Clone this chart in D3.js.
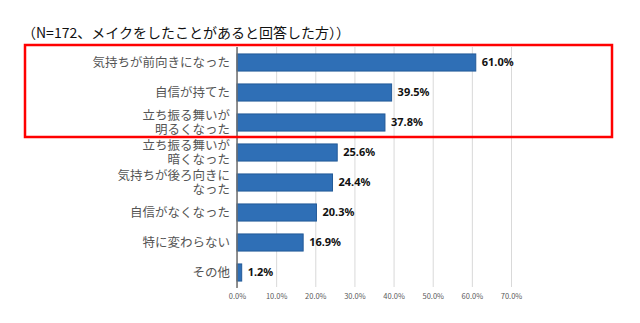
<!DOCTYPE html>
<html><head><meta charset="utf-8">
<script src="https://cdn.jsdelivr.net/npm/d3@7"></script>
<style>
html,body{margin:0;padding:0;background:#fff;}
svg{display:block;}
</style></head>
<body>
<script>
const title = "（N=172、メイクをしたことがあると回答した方））";
const categories = [
  ["気持ちが前向きになった"],
  ["自信が持てた"],
  ["立ち振る舞いが","明るくなった"],
  ["立ち振る舞いが","暗くなった"],
  ["気持ちが後ろ向きに","なった"],
  ["自信がなくなった"],
  ["特に変わらない"],
  ["その他"]
];
const values = [61.0, 39.5, 37.8, 25.6, 24.4, 20.3, 16.9, 1.2];
const tickValues = [0,10,20,30,40,50,60,70];

const W = 640, H = 323;
const font = "'Noto Sans CJK JP','Noto Sans',sans-serif";
const svg = d3.select("body").append("svg").attr("width",W).attr("height",H);

const x = d3.scaleLinear().domain([0,70]).range([237,511]);
const keys = categories.map(c=>c.join(""));
const y = d3.scaleBand().domain(keys).range([47.5,287.5]).paddingInner(0.43).paddingOuter(0.215);

// title
svg.append("text").attr("x",22).attr("y",38).attr("font-family",font)
  .attr("font-size",14).attr("fill","#111").text(title);

// gridlines
const gx = d3.axisBottom(x).tickValues(tickValues).tickSize(-(287-47)).tickFormat(d=>d.toFixed(1)+"%").tickPadding(7);
const ga = svg.append("g").attr("transform","translate(0,287)").call(gx);
ga.select(".domain").remove();
ga.selectAll(".tick line").attr("stroke","#d9d9d9").attr("stroke-width",1);
ga.selectAll(".tick text").attr("font-family",font).attr("font-size",7.5).attr("fill","#595959");

// bars
svg.append("g").selectAll("rect").data(values).join("rect")
  .attr("x",x(0)).attr("y",(d,i)=>y(keys[i]))
  .attr("width",d=>x(d)-x(0)).attr("height",y.bandwidth())
  .attr("fill","#2f6fb6").attr("stroke","#235a98").attr("stroke-width",1);

// axis line
svg.append("line").attr("x1",x(0)).attr("x2",x(0)).attr("y1",47).attr("y2",288)
  .attr("stroke","#6f6f6f").attr("stroke-width",1.5);

// category labels
const cl = svg.append("g").selectAll("text").data(categories).join("text")
  .attr("text-anchor","end").attr("font-family",font).attr("font-size",12.5).attr("fill","#555");
cl.each(function(c,i){
  const cy = y(keys[i]) + y.bandwidth()/2;
  const n = c.length, lh = 14;
  d3.select(this).selectAll("tspan").data(c).join("tspan")
    .attr("x",230).attr("y",(d,j)=>cy + (j-(n-1)/2)*lh).attr("dy","0.35em").text(d=>d);
});

// value labels
svg.append("g").selectAll("text").data(values).join("text")
  .attr("x",d=>x(d)+6).attr("y",(d,i)=>y(keys[i])+y.bandwidth()/2).attr("dy","0.35em")
  .attr("font-family","'Noto Sans',sans-serif").attr("font-weight","bold").attr("font-size",11)
  .attr("fill","#111").text(d=>d.toFixed(1)+"%");

// red highlight box
svg.append("rect").attr("x",25).attr("y",45).attr("width",587).attr("height",92)
  .attr("fill","none").attr("stroke","#ff0000").attr("stroke-width",2.5);
</script>
</body></html>
